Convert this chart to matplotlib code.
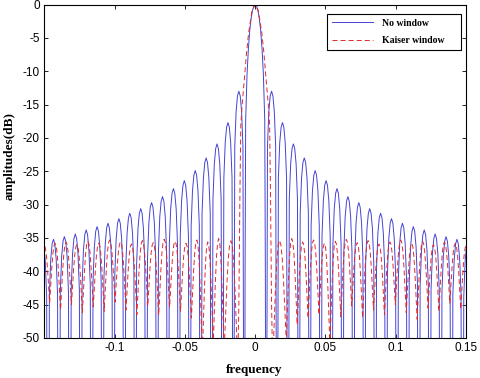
import numpy as np
import matplotlib
matplotlib.use('Agg')
import matplotlib.pyplot as plt

plt.rcParams['axes.unicode_minus'] = False
plt.rcParams['lines.scale_dashes'] = False

# spacing of neighbouring lobes on the frequency axis
lobe_spacing = 0.00776

# no window: main lobe half (offset in lobe widths, dB)
nowin_main_pos = [0, 0.125, 0.25, 0.375, 0.5, 0.625, 0.75, 0.875, 0.93, 1.0]
nowin_main_db = [0, -0.2, -0.9, -2.1, -3.9, -6.6, -10.5, -17.4, -40, -100]
# sidelobe peaks, lobe k centred at k + 0.5
nowin_peak_db = [-13.0, -17.7, -20.9, -23.0, -24.9, -26.4, -27.6, -28.8, -29.7, -30.6,
                 -31.3, -32.1, -32.8, -33.3, -33.8, -34.4, -34.8, -35.2, -35.5]
# shape of one sidelobe (offset from centre, drop from peak)
nowin_lobe_pos = [0, 0.125, 0.25, 0.375, 0.43, 0.5]
nowin_lobe_drop = [0, -0.7, -3.0, -8.3, -40, -100]

# Kaiser window: main lobe half
kaiser_main_pos = [0, 0.3, 0.6, 0.8, 1.0, 1.2, 1.32, 1.4, 1.5, 1.6]
kaiser_main_db = [0, -1.0, -4.2, -7.3, -11.3, -15.0, -18.0, -28.0, -45.0, -54.0]
# sidelobes between these nulls
kaiser_null_pos = [1.6, 2.85, 3.85, 4.85, 5.85, 6.85, 7.85, 8.85, 9.85, 10.85,
                   11.85, 12.85, 13.85, 14.85, 15.85, 16.85, 17.85, 18.85, 19.85]
kaiser_peak_db = [-35.4, -35.1, -35.6, -35.3, -35.8, -35.5, -35.2, -35.7, -35.4,
                  -35.9, -35.6, -35.3, -35.8, -35.5, -36.0, -35.6, -35.8, -36.1]
kaiser_dip_right = [-50.5, -48.0, -47.0, -46.5, -51.0, -46.8, -45.2, -47.0, -45.8,
                    -46.5, -45.0, -46.2, -47.2, -45.5, -46.0, -44.8, -45.7, -46.5]
kaiser_dip_left = [-52.0, -51.0, -52.5, -47.0, -46.0, -45.4, -46.6, -45.2, -46.5,
                   -45.8, -44.6, -46.0, -45.3, -46.2, -45.0, -45.8, -44.7, -45.5]
# shape of a Kaiser sidelobe: fraction of the way down to the dip
kaiser_lobe_t = [0, 0.2, 0.4, 0.6, 0.8, 1.0]
kaiser_lobe_frac = [0, 0.04, 0.17, 0.4, 0.7, 1.0]


def nowin_side():
    pos = list(nowin_main_pos)
    db = list(nowin_main_db)
    u = np.array(nowin_lobe_pos)
    dr = np.array(nowin_lobe_drop)
    lu = np.r_[-u[::-1], u[1:]]
    ld = np.r_[dr[::-1], dr[1:]]
    for k, p in enumerate(nowin_peak_db, start=1):
        pos += list(k + 0.5 + lu[1:])
        db += list(p + ld[1:])
    return np.array(pos), np.array(db)


def kaiser_side(dips):
    pos = list(kaiser_main_pos)
    db = list(kaiser_main_db)
    t = np.array(kaiser_lobe_t)
    fr = np.array(kaiser_lobe_frac)
    left_db = kaiser_main_db[-1]
    for i, p in enumerate(kaiser_peak_db):
        a, b = kaiser_null_pos[i], kaiser_null_pos[i + 1]
        mid, half = (a + b) / 2, (b - a) / 2
        # rise from left null to peak, then down to the next dip
        for tt, ff in zip(t[::-1][1:], fr[::-1][1:]):
            pos.append(mid - tt * half)
            db.append(p - (p - left_db) * ff)
        for tt, ff in zip(t[1:], fr[1:]):
            pos.append(mid + tt * half)
            db.append(p - (p - dips[i]) * ff)
        left_db = dips[i]
    return np.array(pos), np.array(db)


def mirror(pos_r, db_r, pos_l, db_l):
    f = np.r_[-pos_l[::-1], pos_r[1:]] * lobe_spacing
    d = np.r_[db_l[::-1], db_r[1:]]
    return f, d


bp, bd = nowin_side()
f_nowin, db_nowin = mirror(bp, bd, bp, bd)
kr, kdr = kaiser_side(kaiser_dip_right)
kl, kdl = kaiser_side(kaiser_dip_left)
f_kaiser, db_kaiser = mirror(kr, kdr, kl, kdl)

fig = plt.figure(figsize=(4.8, 3.78), dpi=100)
ax = fig.add_axes([44 / 480, 1 - 338 / 378, 422 / 480, 333.5 / 378])

ax.plot(f_nowin, db_nowin, color='#4444d4', lw=0.7, label='No window')
ax.plot(f_kaiser, db_kaiser, color='#e02a2a', lw=0.7, dashes=(3.6, 2.2),
        label='Kaiser window')

ax.set_xlim(-0.1503, 0.15)
ax.set_ylim(-50, 0)
xt = [-0.1, -0.05, 0, 0.05, 0.1, 0.15]
ax.set_xticks(xt)
ax.set_xticklabels(['-0.1', '-0.05', '0', '0.05', '0.1', '0.15'])
yt = list(range(-50, 1, 5))
ax.set_yticks(yt)
ax.set_yticklabels([str(v) for v in yt])

ax.tick_params(direction='in', length=3, width=0.6, top=True, right=True,
               labelsize=8.5, pad=3)
for lab in ax.get_xticklabels() + ax.get_yticklabels():
    lab.set_family('Liberation Sans')
for s in ax.spines.values():
    s.set_linewidth(0.8)

ax.set_xlabel('frequency', family='Liberation Serif', fontweight='bold', fontsize=9.5)
ax.set_ylabel('amplitudes(dB)', family='Liberation Serif', fontweight='bold', fontsize=9.5)
ax.xaxis.set_label_coords(0.498, -0.077)
ax.yaxis.set_label_coords(-0.068, 0.547)

leg = ax.legend(loc='upper left', bbox_to_anchor=(0.671, 0.856, 0.317, 0.116),
                mode='expand', borderaxespad=0, fancybox=False, framealpha=1,
                edgecolor='black', handlelength=4.2, handletextpad=0.9,
                labelspacing=0.9, borderpad=0.5,
                prop={'family': 'Liberation Serif', 'weight': 'bold', 'size': 7})
leg.get_frame().set_linewidth(0.8)

fig.savefig('out.png', dpi=100)
